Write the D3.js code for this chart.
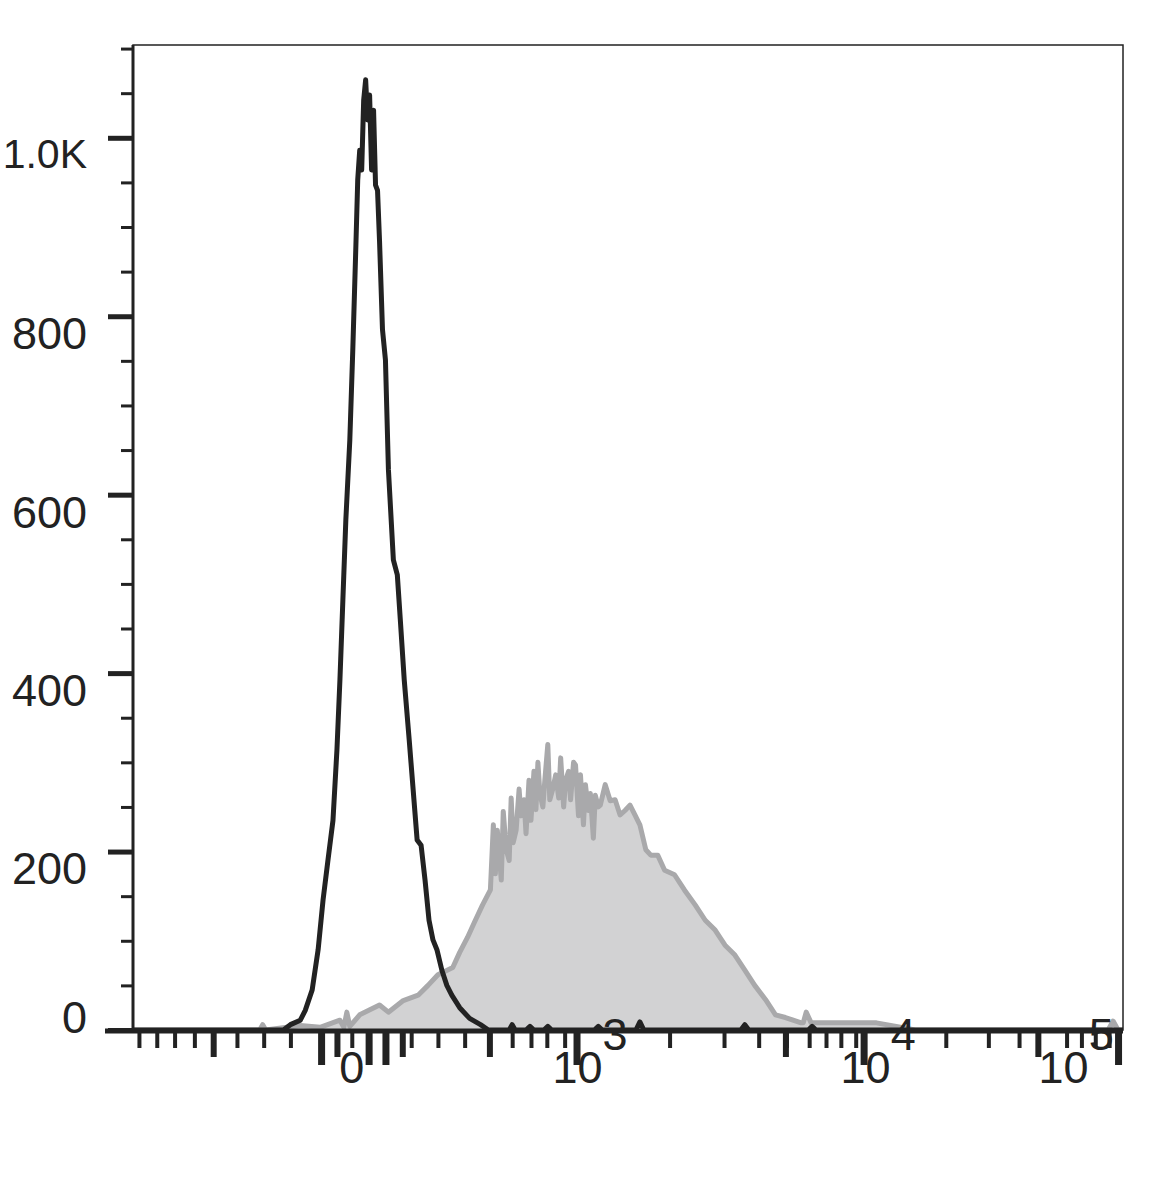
<!DOCTYPE html>
<html><head><meta charset="utf-8">
<script src="https://cdn.jsdelivr.net/npm/d3@7"></script>
<style>body{margin:0;background:#fff}text{font-family:Arial,"Liberation Sans",sans-serif;fill:#222}</style>
</head><body><div id="chart"></div>
<script>
// channel units (0..1000 display scale) and counts
const stainedX = [0,128,131,134,169,189,209,213,216,219,229,249,258,273,288,298,308,323,330,338,345,353,361,364,366,368,372,374,377,380,382,384,387,390,392,395,397,400,402,405,407,409,411,414,416,419,421,424,427,430,432,435,437,440,442,445,447,450,452,455,457,460,462,465,467,470,472,477,482,487,492,497,502,507,512,518,523,530,537,547,557,568,578,588,598,608,618,628,639,649,659,675,677,680,685,702,726,751,771,790,800,985,990,995,1000];
const stainedY = [0,0,6,0,5,3,11,3,20,4,17,28,20,33,39,50,62,70,87,104,121,140,157,230,175,224,168,245,202,190,260,210,224,270,240,258,220,280,235,290,247,300,265,250,280,320,258,270,286,260,305,250,280,290,258,300,297,240,286,230,275,246,265,215,263,250,252,275,257,258,241,246,252,241,230,202,196,196,179,174,157,140,123,112,95,84,67,50,34,17,14,8,8,20,8,8,8,8,4,0,0,0,10,0,0];
const isotypeX = [0,152,159,169,174,181,187,192,197,202,206,209,212,215,219,222,225,227,229,231,233,235,237,239,241,243,245,247,249,252,255,258,263,267,270,274,279,283,287,291,295,299,303,307,312,317,322,330,340,351,359,376,380,383,386,397,401,405,415,419,423,466,470,474,508,512,516,614,618,622,682,686,690,1000];
const isotypeY = [0,0,6,11,22,45,90,146,191,235,314,392,482,572,661,762,874,953,986,964,1042,1065,1020,1048,964,1031,947,941,885,785,751,628,527,510,460,392,325,269,213,207,168,123,101,90,67,50,39,25,13,6,0,0,0,6,0,0,4,0,0,4,0,0,4,0,0,9,0,0,6,0,0,4,0,0];
const yTicks = [0,200,400,600,800,1000];
const yLabels = ["0","200","400","600","800","1.0K"];
const xMajor = [190,238,255,448,738,995];
const xMed = [81,206,272,360,659,914];
const xMinor = [6,24,42,62,105,132,159,221,238,281,308,335,360,383,402,418,436,542,597,632,660,683,700,715,730,821,864,895,943,958,972,986];
const xLabels = [{c:221,t:"0"},{c:449,t:"10",e:"3"},{c:740,t:"10",e:"4"},{c:940,t:"10",e:"5"}];

const W = 1157, H = 1194;
const svg = d3.select("#chart").append("svg").attr("width", W).attr("height", H);
const x = d3.scaleLinear().domain([0, 1000]).range([133, 1123]);
const y = d3.scaleLinear().domain([0, 1104]).range([1030, 45]);

// stained (grey filled) histogram
const sPts = stainedX.map((c, i) => [c, stainedY[i]]);
svg.append("path").datum(sPts)
  .attr("d", d3.area().x(d => x(d[0])).y0(y(0)).y1(d => y(d[1])))
  .attr("fill", "#d2d2d3");
svg.append("path").datum(sPts)
  .attr("d", d3.line().x(d => x(d[0])).y(d => y(d[1])))
  .attr("fill", "none").attr("stroke", "#a9a9ab").attr("stroke-width", 5).attr("stroke-linejoin", "round");

// isotype (black line)
svg.append("path").datum(isotypeX.map((c, i) => [c, isotypeY[i]]))
  .attr("d", d3.line().x(d => x(d[0])).y(d => y(d[1])))
  .attr("fill", "none").attr("stroke", "#222").attr("stroke-width", 5).attr("stroke-linejoin", "round");

// frame
svg.append("rect").attr("x", 133).attr("y", 45).attr("width", 990).attr("height", 985)
  .attr("fill", "none").attr("stroke", "#222").attr("stroke-width", 1.5);
svg.append("line").attr("x1", 105).attr("x2", 1123).attr("y1", 1031).attr("y2", 1031)
  .attr("stroke", "#222").attr("stroke-width", 5);
svg.append("line").attr("x1", 133).attr("x2", 133).attr("y1", 45).attr("y2", 1031)
  .attr("stroke", "#222").attr("stroke-width", 3);

// y axis
const yAxis = d3.axisLeft(y).tickValues(yTicks).tickSize(25).tickFormat((d, i) => yLabels[i]);
const gy = svg.append("g").attr("transform", "translate(133,0)").call(yAxis);
gy.select(".domain").remove();
gy.selectAll(".tick line").attr("stroke", "#222").attr("stroke-width", 5);
gy.selectAll(".tick text").attr("font-size", d => d === 1000 ? 41 : 45).attr("x", -46)
  .attr("dy", d => d === 0 ? "0.05em" : "0.72em").style("fill", "#222");
const gy2 = svg.append("g").attr("transform", "translate(133,0)")
  .call(d3.axisLeft(y).tickValues(d3.range(50, 1101, 50).filter(v => v % 200)).tickSize(12).tickFormat(""));
gy2.select(".domain").remove();
gy2.selectAll(".tick line").attr("stroke", "#222").attr("stroke-width", 3);

// x axis ticks
function xt(vals, len, w) {
  const g = svg.append("g").attr("transform", "translate(0,1033)")
    .call(d3.axisBottom(x).tickValues(vals).tickSize(len).tickFormat(""));
  g.select(".domain").remove();
  g.selectAll(".tick line").attr("stroke", "#222").attr("stroke-width", w);
}
xt(xMinor, 15, 4);
xt(xMed, 24, 6);
xt(xMajor, 32, 7);

// x labels
svg.append("text").attr("x", x(xLabels[0].c)).attr("y", 1083).attr("text-anchor", "middle")
  .attr("font-size", 45).text(xLabels[0].t);
const lab = svg.append("g").selectAll("text").data(xLabels.slice(1)).join("text")
  .attr("x", d => x(d.c) - 25).attr("y", 1083).attr("font-size", 45);
lab.append("tspan").text(d => d.t);
lab.append("tspan").attr("dy", -33).text(d => d.e);
</script></body></html>
